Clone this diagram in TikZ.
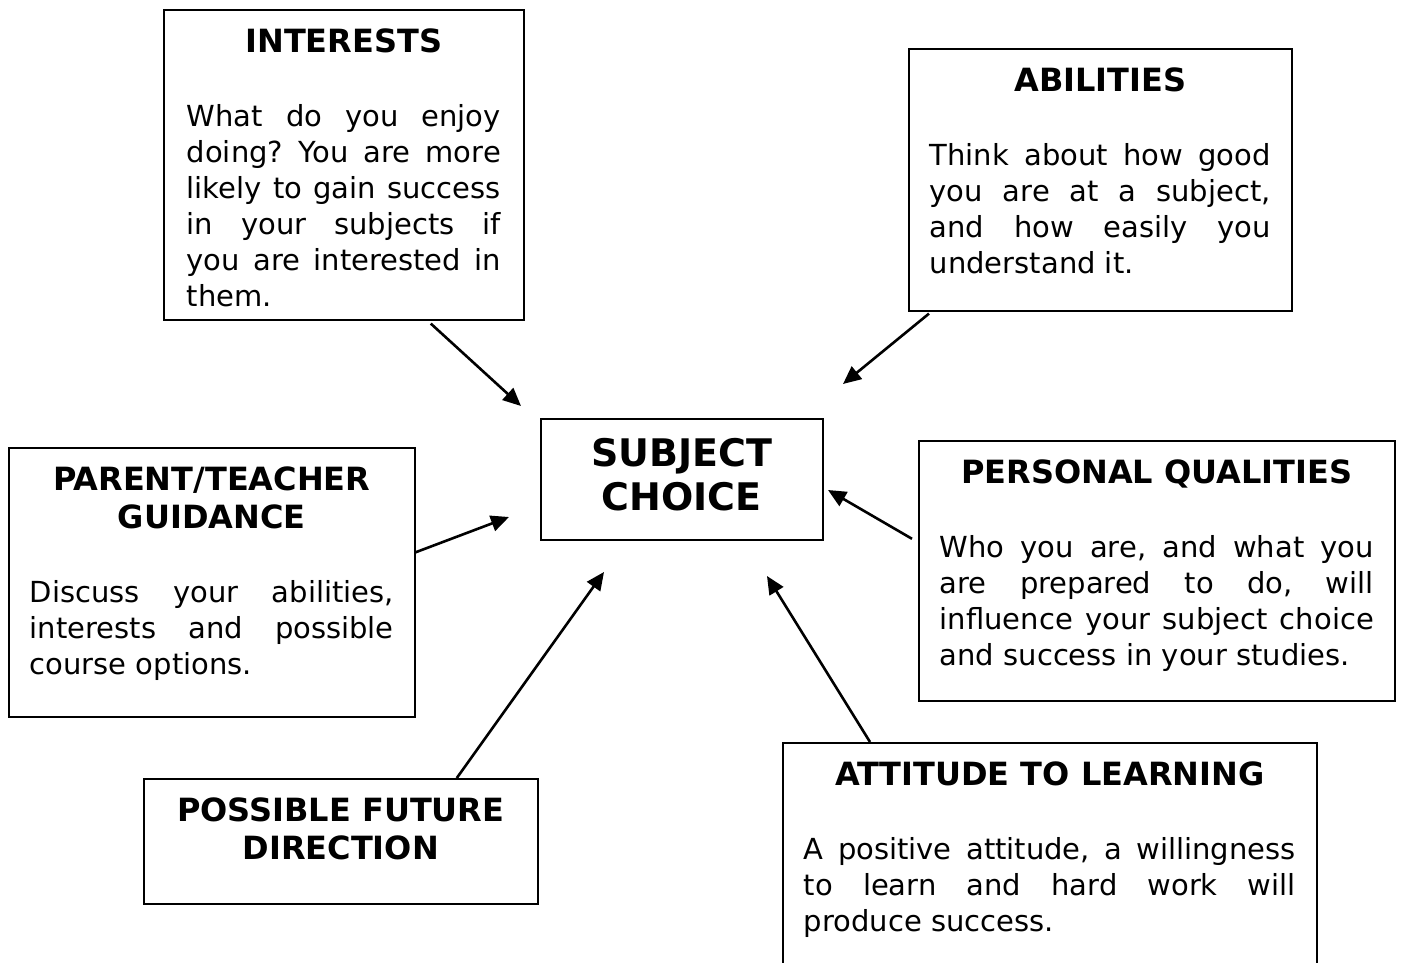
\documentclass[tikz,border=0pt]{standalone}
\usepackage{fontspec}
\setmainfont{DejaVu Sans}
\usetikzlibrary{arrows.meta}

\newcommand{\headfont}{\fontsize{32}{38}\selectfont\bfseries}
\newcommand{\bodyfont}{\fontsize{29}{36}\selectfont\frenchspacing\hyphenpenalty=10000\tolerance=10000\hbadness=10000}

\tikzset{
	infobox/.style={draw, line width=1.6pt, anchor=north west, inner ysep=0pt, inner xsep=21pt},
	pointer/.style={-{Triangle[length=18pt,width=16pt]}, line width=2.6pt},
}

\begin{document}
\begin{tikzpicture}[x=1pt,y=-1pt]
	\useasboundingbox (0,0) rectangle (1403,963);
	% the boxes
	\node[infobox, inner xsep=23pt] (interests) at (163,9) {\parbox[c][310pt][t]{314pt}{%
		{\centering\headfont\rule{0pt}{43pt}INTERESTS\par}\vspace{38pt}
		\bodyfont What do you enjoy\linebreak doing? You are more\linebreak likely to gain success\linebreak in your subjects if\linebreak you are interested in\linebreak them.}};
	\node[infobox] (abilities) at (908,48) {\parbox[c][262pt][t]{341pt}{%
		{\centering\headfont\rule{0pt}{43pt}ABILITIES\par}\vspace{38pt}
		\bodyfont Think about how good\linebreak you are at a subject,\linebreak and how easily you\linebreak understand it.}};
	\node[infobox, inner xsep=0pt] (choice) at (540,418) {\parbox[c][121pt][t]{282pt}{%
		\centering\fontsize{38}{44}\selectfont\bfseries\rule{0pt}{48pt}SUBJECT\\CHOICE}};
	\node[infobox] (parent) at (8,447) {\parbox[c][269pt][t]{364pt}{%
		{\centering\headfont\rule{0pt}{43pt}PARENT/TEACHER\\GUIDANCE\par}\vspace{38pt}
		\bodyfont Discuss your abilities,\linebreak interests and possible\linebreak course options.}};
	\node[infobox] (personal) at (918,440) {\parbox[c][260pt][t]{434pt}{%
		{\centering\headfont\rule{0pt}{43pt}PERSONAL QUALITIES\par}\vspace{38pt}
		\bodyfont Who you are, and what you\linebreak are prepared to do, will\linebreak influence your subject choice\linebreak and success in your studies.}};
	\node[infobox, inner xsep=0pt] (future) at (143,778) {\parbox[c][125pt][t]{394pt}{%
		\centering\headfont\rule{0pt}{43pt}POSSIBLE FUTURE\\DIRECTION}};
	\node[infobox] (attitude) at (782,742) {\parbox[c][260pt][t]{492pt}{%
		{\centering\headfont\rule{0pt}{43pt}ATTITUDE TO LEARNING\par}\vspace{38pt}
		\bodyfont A positive attitude, a willingness\linebreak to learn and hard work will\linebreak produce success.}};
	% where the arrows point to
	\coordinate (tip-interests) at (521,406);
	\coordinate (tip-abilities) at (843,384);
	\coordinate (tip-parent) at (509,517);
	\coordinate (tip-personal) at (828,490);
	\coordinate (tip-future) at (604,572);
	\coordinate (tip-attitude) at (767,576);
	\draw[pointer] ([shift={(87pt,-3pt)}]interests.south) -- (tip-interests);
	\draw[pointer] ([shift={(21pt,-2pt)}]abilities.south west) -- (tip-abilities);
	\draw[pointer] ([yshift=30pt]parent.east) -- (tip-parent);
	\draw[pointer] ([shift={(-6pt,32pt)}]personal.west) -- (tip-personal);
	\draw[pointer] ([xshift=116pt]future.north) -- (tip-future);
	\draw[pointer] ([xshift=88pt]attitude.north west) -- (tip-attitude);
\end{tikzpicture}
\end{document}
